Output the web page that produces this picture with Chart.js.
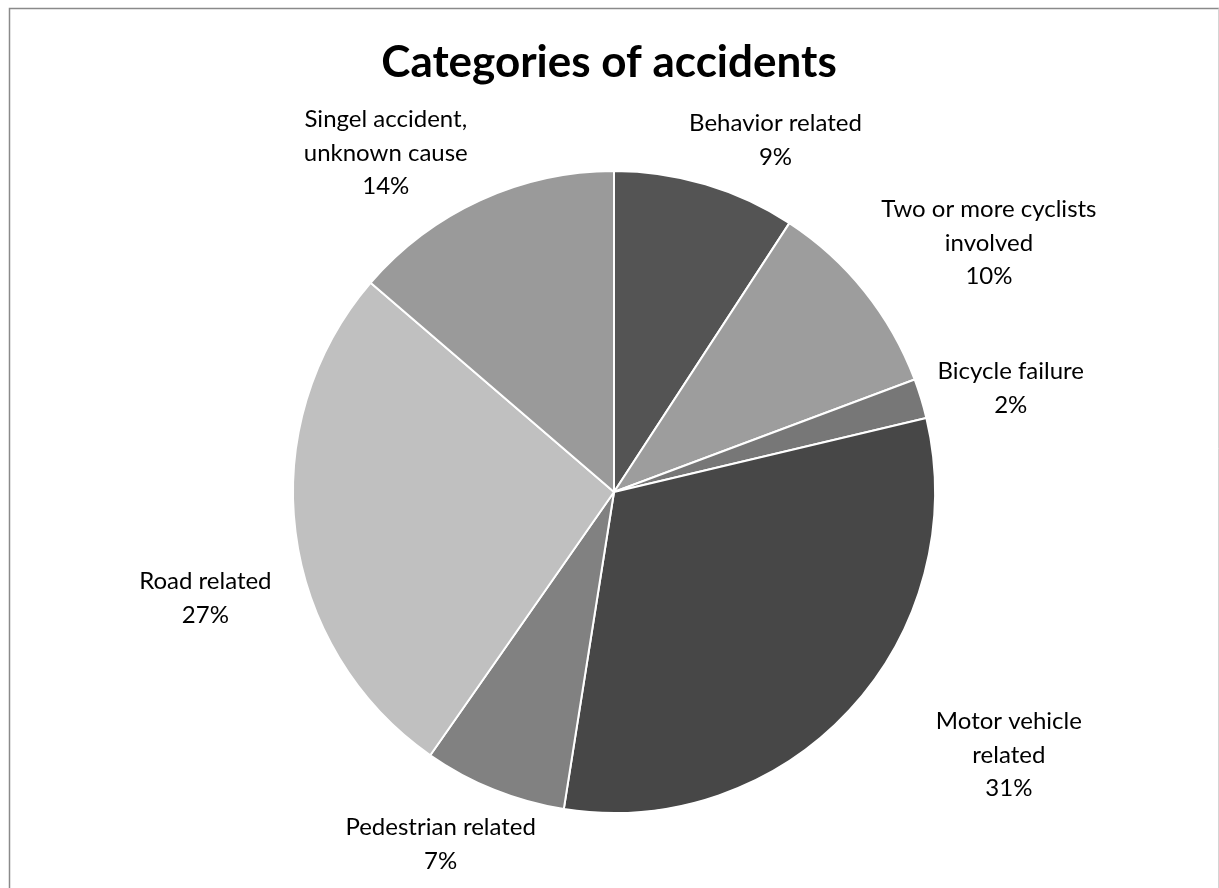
<!DOCTYPE html>
<html>
<head>
<meta charset="utf-8">
<script src="https://cdn.jsdelivr.net/npm/chart.js@4.4.1/dist/chart.umd.min.js"></script>
<style>
  html, body { margin: 0; padding: 0; background: #fff; }
  #wrap { width: 1219px; height: 888px; position: relative; }
</style>
</head>
<body>
<div id="wrap"><canvas id="pie"></canvas></div>
<script>
// data (share of accidents, %)
const categories = [
  ["Behavior related"],
  ["Two or more cyclists", "involved"],
  ["Bicycle failure"],
  ["Motor vehicle", "related"],
  ["Pedestrian related"],
  ["Road related"],
  ["Singel accident,", "unknown cause"]
];
const shares = [9.2, 10.1, 2.0, 31.2, 7.2, 26.6, 13.7];
const sliceColors = ["#545454", "#9d9d9d", "#777777", "#474747", "#818181", "#c0c0c0", "#9a9a9a"];

// where each label block sits, relative to the pie centre, in radius units
const labelOffsets = [
  [0.503, -1.096], [1.168, -0.776], [1.236, -0.323], [1.230, 0.820],
  [-0.540, 1.098], [-1.273, 0.331], [-0.711, -1.056]
];

const chartTitle = "Categories of accidents";
const titleFont = "bold 44px Lato, sans-serif";
const labelFont = "24px Lato, 'Open Sans', sans-serif";

const total = shares.reduce((a, b) => a + b, 0);

// frame, title and outside labels
const decorPlugin = {
  id: "decor",
  beforeDraw(chart) {
    const ctx = chart.ctx;
    ctx.save();
    ctx.strokeStyle = "#8a8a8a";
    ctx.lineWidth = 1.5;
    ctx.beginPath();
    ctx.moveTo(9.5, 900);
    ctx.lineTo(9.5, 8.5);
    ctx.lineTo(1230, 8.5);
    ctx.stroke();
    ctx.strokeStyle = "#d4d4d4";
    ctx.lineWidth = 1;
    ctx.beginPath();
    ctx.moveTo(1218.5, 8.5);
    ctx.lineTo(1218.5, 900);
    ctx.stroke();
    ctx.restore();
  },
  afterDraw(chart) {
    const ctx = chart.ctx;
    const arcs = chart.getDatasetMeta(0).data;
    ctx.save();
    ctx.fillStyle = "#000";
    ctx.textAlign = "center";
    ctx.textBaseline = "alphabetic";
    ctx.font = titleFont;
    ctx.fillText(chartTitle, 609, 77);

    ctx.font = labelFont;
    ctx.textBaseline = "middle";
    arcs.forEach((arc, i) => {
      const r = arc.outerRadius;
      const cx = arc.x + labelOffsets[i][0] * r;
      const cy = arc.y + labelOffsets[i][1] * r;
      const lines = categories[i].concat([Math.round(shares[i] / total * 100) + "%"]);
      const lh = 33.5;
      const top = cy - (lines.length - 1) * lh / 2;
      lines.forEach((t, k) => ctx.fillText(t, cx, top + k * lh));
    });
    ctx.restore();
  }
};

new Chart(document.getElementById("pie"), {
  type: "pie",
  data: {
    labels: categories.map(c => c.join(" ")),
    datasets: [{
      data: shares,
      backgroundColor: sliceColors,
      borderColor: "#ffffff",
      borderWidth: 2
    }]
  },
  options: {
    responsive: true,
    maintainAspectRatio: false,
    animation: false,
    layout: { padding: { left: 292, right: 283, top: 170, bottom: 74 } },
    plugins: {
      legend: { display: false },
      title: { display: false },
      tooltip: { enabled: false }
    }
  },
  plugins: [decorPlugin]
});
</script>
</body>
</html>
